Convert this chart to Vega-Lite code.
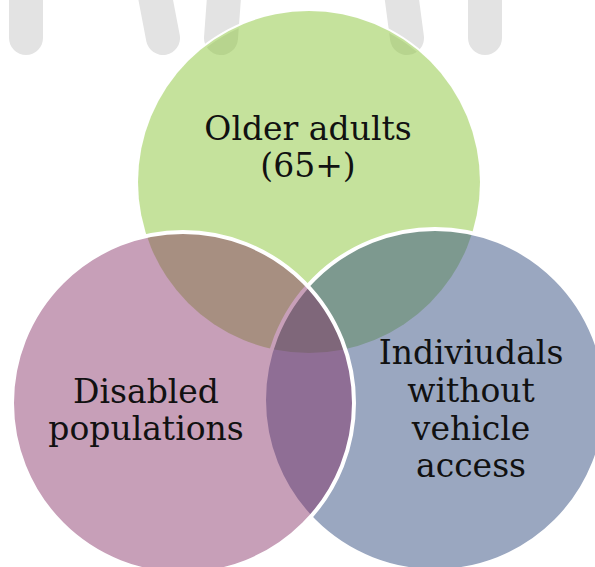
{
  "$schema": "https://vega.github.io/schema/vega-lite/v6.json",
  "autosize": "none",
  "width": 595,
  "height": 567,
  "padding": 0,
  "background": "white",
  "config": {"view": {"stroke": null}},
  "datasets": {
    "bars": [
      {"bar": "b1", "seq": 0, "x": 26, "y": -30},
      {"bar": "b1", "seq": 1, "x": 26, "y": 38},
      {"bar": "b2", "seq": 0, "x": 150, "y": -30},
      {"bar": "b2", "seq": 1, "x": 163, "y": 38},
      {"bar": "b3", "seq": 0, "x": 226, "y": -30},
      {"bar": "b3", "seq": 1, "x": 221, "y": 38},
      {"bar": "b4", "seq": 0, "x": 398, "y": -30},
      {"bar": "b4", "seq": 1, "x": 407, "y": 38},
      {"bar": "b5", "seq": 0, "x": 485, "y": -30},
      {"bar": "b5", "seq": 1, "x": 485, "y": 38}
    ],
    "circles": [
      {"name": "Older adults", "cx": 309, "cy": 182},
      {"name": "Vehicle", "cx": 435, "cy": 400},
      {"name": "Disabled", "cx": 183, "cy": 403}
    ],
    "labels": [
      {"text": "Older adults", "x": 308, "y": 140},
      {"text": "(65+)", "x": 308, "y": 177},
      {"text": "Disabled", "x": 146, "y": 403},
      {"text": "populations", "x": 146, "y": 440},
      {"text": "Indiviudals", "x": 471, "y": 364},
      {"text": "without", "x": 471, "y": 402},
      {"text": "vehicle", "x": 471, "y": 440},
      {"text": "access", "x": 471, "y": 477}
    ]
  },
  "layer": [
    {
      "data": {"name": "bars"},
      "mark": {"type": "line", "strokeWidth": 34, "strokeCap": "round", "color": "#e3e3e3", "clip": false},
      "encoding": {
        "x": {"field": "x", "type": "quantitative", "scale": {"domain": [0, 595], "nice": false, "zero": false}, "axis": null},
        "y": {"field": "y", "type": "quantitative", "scale": {"domain": [567, 0], "nice": false, "zero": false}, "axis": null},
        "detail": {"field": "bar"},
        "order": {"field": "seq"}
      }
    },
    {
      "data": {"name": "circles"},
      "transform": [{"filter": "datum.name === 'Older adults'"}],
      "mark": {"type": "point", "shape": "circle", "filled": false, "stroke": "white", "strokeWidth": 4, "opacity": 1, "size": 116964},
      "encoding": {
        "x": {"field": "cx", "type": "quantitative", "scale": {"domain": [0, 595], "nice": false, "zero": false}, "axis": null},
        "y": {"field": "cy", "type": "quantitative", "scale": {"domain": [567, 0], "nice": false, "zero": false}, "axis": null}
      }
    },
    {
      "data": {"name": "circles"},
      "transform": [{"filter": "datum.name === 'Older adults'"}],
      "mark": {"type": "point", "shape": "circle", "filled": true, "fill": "#8bc539", "fillOpacity": 0.5, "opacity": 1, "strokeWidth": 0, "size": 116964},
      "encoding": {
        "x": {"field": "cx", "type": "quantitative", "scale": {"domain": [0, 595], "nice": false, "zero": false}, "axis": null},
        "y": {"field": "cy", "type": "quantitative", "scale": {"domain": [567, 0], "nice": false, "zero": false}, "axis": null}
      }
    },
    {
      "data": {"name": "circles"},
      "transform": [{"filter": "datum.name === 'Vehicle'"}],
      "mark": {"type": "point", "shape": "circle", "filled": true, "fill": "#354f81", "fillOpacity": 0.5, "opacity": 1, "stroke": "white", "strokeWidth": 4, "strokeOpacity": 1, "size": 116964},
      "encoding": {
        "x": {"field": "cx", "type": "quantitative", "scale": {"domain": [0, 595], "nice": false, "zero": false}, "axis": null},
        "y": {"field": "cy", "type": "quantitative", "scale": {"domain": [567, 0], "nice": false, "zero": false}, "axis": null}
      }
    },
    {
      "data": {"name": "circles"},
      "transform": [{"filter": "datum.name === 'Disabled'"}],
      "mark": {"type": "point", "shape": "circle", "filled": true, "fill": "#832a61", "fillOpacity": 0.45, "opacity": 1, "stroke": "white", "strokeWidth": 4, "strokeOpacity": 1, "size": 116964},
      "encoding": {
        "x": {"field": "cx", "type": "quantitative", "scale": {"domain": [0, 595], "nice": false, "zero": false}, "axis": null},
        "y": {"field": "cy", "type": "quantitative", "scale": {"domain": [567, 0], "nice": false, "zero": false}, "axis": null}
      }
    },
    {
      "data": {"name": "labels"},
      "mark": {"type": "text", "font": "DejaVu Serif", "fontSize": 33, "align": "center", "baseline": "alphabetic", "color": "#111111"},
      "encoding": {
        "x": {"field": "x", "type": "quantitative", "scale": {"domain": [0, 595], "nice": false, "zero": false}, "axis": null},
        "y": {"field": "y", "type": "quantitative", "scale": {"domain": [567, 0], "nice": false, "zero": false}, "axis": null},
        "text": {"field": "text"}
      }
    }
  ]
}
